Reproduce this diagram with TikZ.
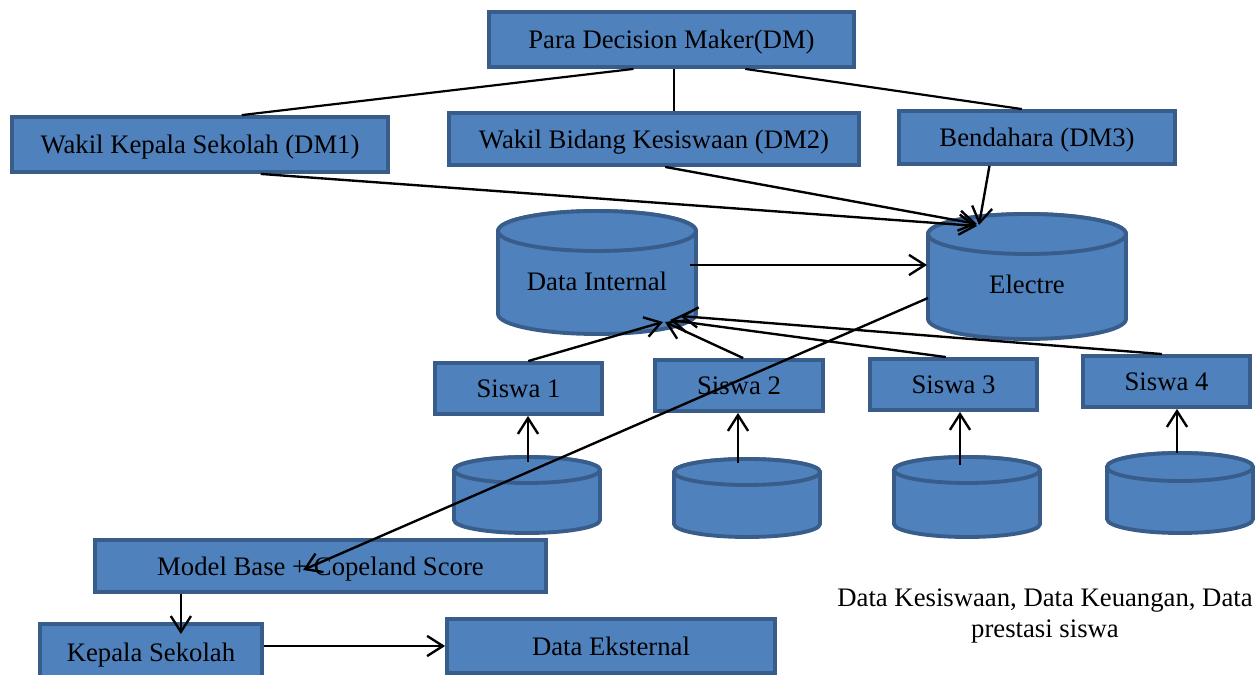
\documentclass[tikz,border=0pt]{standalone}
\usepackage{fontspec}
\setmainfont{Liberation Serif}
\usetikzlibrary{arrows.meta,calc}
\definecolor{boxfill}{HTML}{4F81BD}
\definecolor{boxline}{HTML}{385D8A}
\tikzset{
  box/.style={draw=boxline, fill=boxfill, line width=2.2pt, inner sep=0pt,
    font=\fontsize{15.2}{18}\selectfont, text=black, text height=10.5pt, text depth=0pt},
  cylfill/.style={draw=boxline, fill=boxfill, line width=2.2pt},
  cyltext/.style={inner sep=0pt, font=\fontsize{15.2}{18}\selectfont, text=black},
  conn/.style={line width=1.25pt, draw=black},
  arr/.style={conn, line width=1.35pt, -{Straight Barb[length=9pt,width=11.5pt]}},
  note/.style={align=center, inner sep=0pt, font=\fontsize{15.2}{18}\selectfont, text=black},
}
% #1 name, #2 cx, #3 y of top ellipse centre, #4 y of bottom ellipse centre,
% #5 rx, #6 ry, #7 y of label, #8 label
\newcommand\mycyl[8]{%
  \path[cylfill] ({#2-#5},#3) -- ({#2-#5},#4)
     arc[start angle=180,end angle=360,x radius={#5*0.02cm},y radius={#6*0.02cm}]
     -- ({#2+#5},#3)
     arc[start angle=0,end angle=180,x radius={#5*0.02cm},y radius={#6*0.02cm}] -- cycle;
  \draw[cylfill] (#2,#3) ellipse[x radius={#5*0.02cm}, y radius={#6*0.02cm}];
  \node[cyltext] (#1) at (#2,#7) {#8};
}
\begin{document}
\begin{tikzpicture}[x=0.02cm,y=-0.02cm]
\useasboundingbox (0,0) rectangle (1255,675);

% boxes
\node[box, minimum width=7.3cm, minimum height=1.1cm] (dm) at (671.5,39.5) {Para Decision Maker(DM)};
\node[box, minimum width=7.52cm, minimum height=1.1cm] (wk) at (200,144.5) {Wakil Kepala Sekolah (DM1)};
\node[box, minimum width=8.2cm, minimum height=1.04cm] (wb) at (654,139) {Wakil Bidang Kesiswaan (DM2)};
\node[box, minimum width=5.52cm, minimum height=1.06cm] (bd) at (1037,137.5) {Bendahara (DM3)};

% cylinders
\mycyl{di}{597}{231}{314}{99}{20}{281}{Data Internal}
\mycyl{el}{1027}{234}{319}{99}{20}{284}{Electre}
\mycyl{c1}{527}{470}{520}{73}{13}{470}{}
\mycyl{c2}{747}{472}{524}{73}{13}{472}{}
\mycyl{c3}{967}{470}{524}{73}{13}{470}{}
\mycyl{c4}{1180}{467}{519}{73}{14}{467}{}

\node[box, minimum width=3.34cm, minimum height=1.02cm] (s1) at (518.5,388.5) {Siswa 1};
\node[box, minimum width=3.36cm, minimum height=1.02cm] (s2) at (739,385.5) {Siswa 2};
\node[box, minimum width=3.34cm, minimum height=1.02cm] (s3) at (953.5,384.5) {Siswa 3};
\node[box, minimum width=3.34cm, minimum height=1.02cm] (s4) at (1166.5,381.5) {Siswa 4};

\node[box, minimum width=9.02cm, minimum height=1.04cm] (mb) at (320.5,566) {Model Base + Copeland Score};
\node[box, minimum width=4.44cm, minimum height=1.12cm] (ks) at (151,652) {Kepala Sekolah};
\node[box, minimum width=6.56cm, minimum height=1.08cm] (de) at (611,646) {Data Eksternal};

\node[note] (nt) at (1045,616) {Data Kesiswaan, Data Keuangan, Data\\prestasi siswa};

% DM tree
\draw[conn] ($(dm.south west)!0.397!(dm.south east)$) -- ($(wk.north west)!0.61!(wk.north east)$);
\draw[conn] ($(dm.south west)!0.507!(dm.south east)$) coordinate (t1) -- (t1 |- wb.north);
\draw[conn] ($(dm.south west)!0.70!(dm.south east)$) -- ($(bd.north west)!0.446!(bd.north east)$);

% to Electre
\draw[arr] ($(wk.south west)!0.66!(wk.south east)$) -- ($(el)+(-50,-58)$);
\draw[arr] ($(wb.south west)!0.527!(wb.south east)$) -- ($(el)+(-50,-60)$);
\draw[arr] ($(bd.south west)!0.33!(bd.south east)$) -- ($(el)+(-48,-59)$);
\draw[arr] ($(di)+(93,-16)$) -- ($(el)+(-100,-19)$);

% Electre to Model Base
\draw[arr] ($(el)+(-99,14)$) -- ($(mb)+(-17.5,4)$);

% Siswa to Data Internal
\draw[arr] ($(s1.north west)!0.557!(s1.north east)$) -- ($(di)+(66,41)$);
\draw[arr] ($(s2.north west)!0.524!(s2.north east)$) -- ($(di)+(68,41)$);
\draw[arr] ($(s3.north west)!0.455!(s3.north east)$) -- ($(di)+(73,39)$);
\draw[arr] ($(s4.north west)!0.473!(s4.north east)$) -- ($(di)+(83,35)$);

% small cylinders to Siswa
\draw[arr] ($(c1)+(1,-8)$) coordinate (u1) -- (u1 |- s1.south);
\draw[arr] ($(c2)+(-9,-9)$) coordinate (u2) -- (u2 |- s2.south);
\draw[arr] ($(c3)+(-7,-5)$) coordinate (u3) -- (u3 |- s3.south);
\draw[arr] ($(c4)+(-3,-14)$) coordinate (u4) -- (u4 |- s4.south);

% bottom
\draw[arr] ($(mb.south west)!0.193!(mb.south east)$) coordinate (u5) -- ($(u5 |- ks.north)+(0,12)$);
\draw[arr] (ks.east |- de.west) -- (de.west);
\end{tikzpicture}
\end{document}
